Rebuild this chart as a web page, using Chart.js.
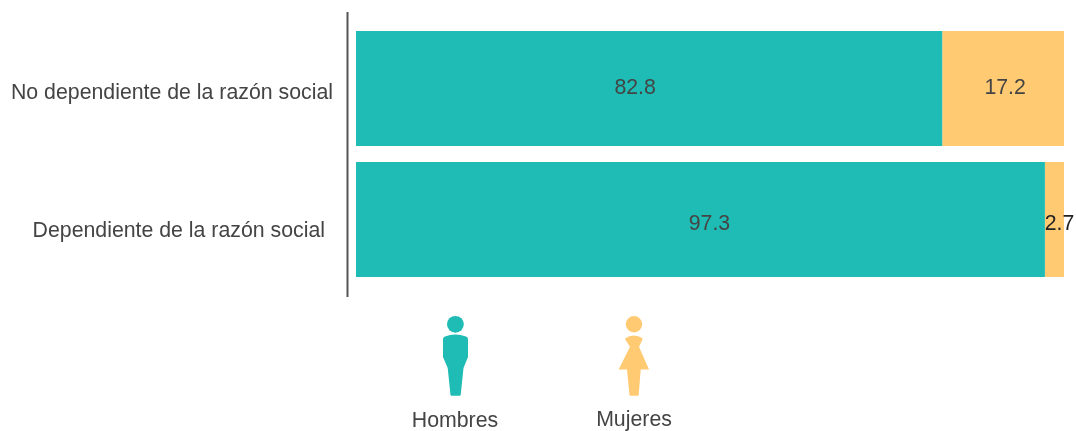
<!DOCTYPE html>
<html>
<head>
<meta charset="utf-8">
<style>
  html, body { margin: 0; padding: 0; background: #fff; }
  #wrap { position: relative; width: 1076px; height: 431px; overflow: hidden; }
  #icons { position: absolute; left: 0; top: 0; }
  .key { position: absolute; transform: translate(-50%, -50%); font: 21.3px "Liberation Sans", Arial, sans-serif; color: #444; white-space: nowrap; }
</style>
</head>
<body>
<div id="wrap">
  <canvas id="myChart" width="1076" height="431"></canvas>
  <svg id="icons" width="1076" height="431">
    <circle cx="455.4" cy="324.3" r="8.4" fill="#1fbcb5"/>
    <path d="M443 339 Q443 337 445 336.5 Q455 332.5 466 336.5 Q468 337 468 339 L468 357 L463.5 368 L460.7 395 Q460.5 395.7 459.5 395.7 L451.5 395.7 Q450.7 395.7 450.5 395 L447.7 368 L443 357 Z" fill="#1fbcb5"/>
    <circle cx="634" cy="324.3" r="8.2" fill="#ffca72"/>
    <path d="M625 338.5 Q634 332.5 642.7 338.5 Q642 341 639 346.7 L649 369.5 L640.7 369.5 L638.7 395 Q638.5 395.7 637.5 395.7 L630.5 395.7 Q629.6 395.7 629.5 395 L627 369.5 L618.7 369.5 L630 346.7 Q626 341 625 338.5 Z" fill="#ffca72"/>
  </svg>
  <div class="key" id="key0" style="left:455px;top:420px"></div>
  <div class="key" id="key1" style="left:634px;top:419px"></div>
</div>
<script src="https://cdn.jsdelivr.net/npm/chart.js@4"></script>
<script>
const categories = ['No dependiente de la razón social', 'Dependiente de la razón social'];
const hombres = [82.8, 97.3];
const mujeres = [17.2, 2.7];

const ctx = document.getElementById('myChart').getContext('2d');
const font = '21.3px "Liberation Sans", Arial, sans-serif';

// the source nudges its labels off centre, so keep those offsets here
const categoryNudge = [[0, 5], [-8, 12]];
const valueNudge = [[[-14, 0], [9, 5]], [[2, 0], [5, 5]]];

const drawExtras = {
    id: 'drawExtras',
    afterDatasetsDraw(chart) {
        const c = chart.ctx;
        const yScale = chart.scales.y;
        c.save();

        // vertical axis line, taller than the plot
        c.strokeStyle = '#555';
        c.lineWidth = 2;
        c.beginPath();
        c.moveTo(347.5, 12);
        c.lineTo(347.5, 297);
        c.stroke();

        c.font = font;
        c.textBaseline = 'middle';

        c.fillStyle = '#444';
        c.textAlign = 'right';
        categories.forEach((label, i) => {
            c.fillText(label, 333 + categoryNudge[i][0], yScale.getPixelForValue(i) + categoryNudge[i][1]);
        });

        c.textAlign = 'center';
        chart.data.datasets.forEach((ds, d) => {
            chart.getDatasetMeta(d).data.forEach((bar, i) => {
                const mid = bar.getProps(['x', 'base', 'y']);
                c.fillStyle = (d === 1 && i === 1) ? '#222' : '#444';
                c.fillText(ds.data[i].toFixed(1), (mid.x + mid.base) / 2 + valueNudge[d][i][0], mid.y + valueNudge[d][i][1]);
            });
        });
        c.restore();
    }
};

const myChart = new Chart(ctx, {
    type: 'bar',
    data: {
        labels: categories,
        datasets: [
            { label: 'Hombres', data: hombres, backgroundColor: '#1fbcb5', borderWidth: 0 },
            { label: 'Mujeres', data: mujeres, backgroundColor: '#ffca72', borderWidth: 0 }
        ]
    },
    options: {
        indexAxis: 'y',
        responsive: false,
        animation: false,
        categoryPercentage: 1,
        barPercentage: 115 / 131,
        layout: { padding: { left: 356, right: 12, top: 23, bottom: 146 } },
        plugins: { legend: { display: false }, tooltip: { enabled: false } },
        scales: {
            x: { display: false, stacked: true, min: 0, max: 100 },
            y: { display: false, stacked: true }
        }
    },
    plugins: [drawExtras]
});

myChart.data.datasets.forEach((ds, i) => {
    document.getElementById('key' + i).textContent = ds.label;
});
</script>
</body>
</html>
